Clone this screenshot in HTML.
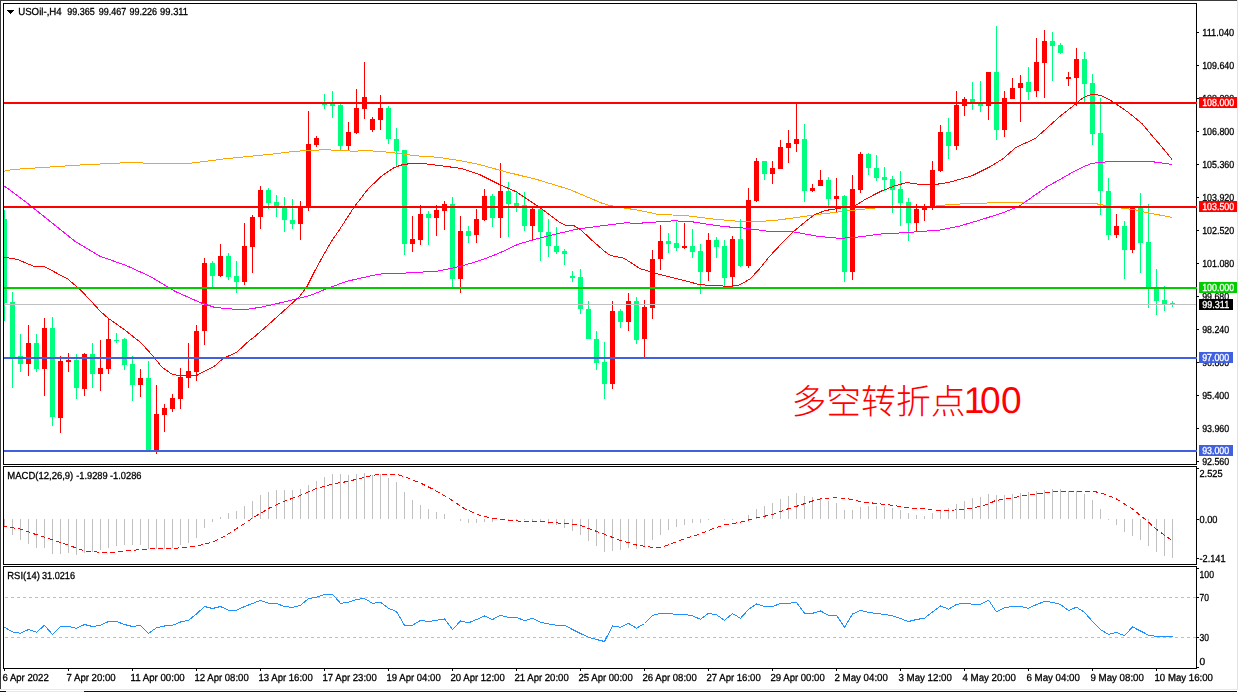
<!DOCTYPE html>
<html lang="en"><head><meta charset="utf-8"><title>USOil-,H4</title>
<style>
html,body{margin:0;padding:0;background:#fff;overflow:hidden}
body{width:1239px;height:692px;position:relative;font-family:"Liberation Sans",sans-serif}
svg{position:absolute;left:0;top:0;display:block}
text{font-family:"Liberation Sans",sans-serif;font-size:10.2px;fill:#000;stroke:#000;stroke-width:.3px;text-rendering:geometricPrecision}
.tx{filter:grayscale(1)}
.c{shape-rendering:crispEdges}
.l{fill:none;stroke-width:1;stroke-linejoin:round;shape-rendering:crispEdges}
</style></head>
<body>
<svg width="1239" height="692" viewBox="0 0 1239 692">
<rect width="1239" height="692" fill="#fff"/>
<clipPath id="cm"><rect x="4" y="4" width="1192" height="460"/></clipPath>
<g class="c" clip-path="url(#cm)">
<rect x="4" y="210" width="1" height="111" fill="#00FF7F"/><rect x="2" y="219" width="5" height="84" fill="#00FF7F"/>
<rect x="12" y="292" width="1" height="96" fill="#00FF7F"/><rect x="10" y="302" width="5" height="55" fill="#00FF7F"/>
<rect x="20" y="334" width="1" height="38" fill="#00FF7F"/><rect x="18" y="356" width="5" height="8" fill="#00FF7F"/>
<rect x="28" y="325" width="1" height="51" fill="#FF0000"/><rect x="26" y="343" width="5" height="21" fill="#FF0000"/>
<rect x="36" y="334" width="1" height="38" fill="#00FF7F"/><rect x="34" y="343" width="5" height="26" fill="#00FF7F"/>
<rect x="44" y="318" width="1" height="78" fill="#FF0000"/><rect x="42" y="328" width="5" height="41" fill="#FF0000"/>
<rect x="52" y="317" width="1" height="109" fill="#00FF7F"/><rect x="50" y="328" width="5" height="89" fill="#00FF7F"/>
<rect x="60" y="356" width="1" height="77" fill="#FF0000"/><rect x="58" y="361" width="5" height="57" fill="#FF0000"/>
<rect x="68" y="353" width="1" height="19" fill="#FF0000"/><rect x="66" y="360" width="5" height="2" fill="#FF0000"/>
<rect x="76" y="354" width="1" height="45" fill="#00FF7F"/><rect x="74" y="360" width="5" height="28" fill="#00FF7F"/>
<rect x="84" y="353" width="1" height="43" fill="#FF0000"/><rect x="82" y="354" width="5" height="35" fill="#FF0000"/>
<rect x="92" y="343" width="1" height="45" fill="#00FF7F"/><rect x="90" y="354" width="5" height="20" fill="#00FF7F"/>
<rect x="100" y="340" width="1" height="51" fill="#FF0000"/><rect x="98" y="368" width="5" height="6" fill="#FF0000"/>
<rect x="108" y="319" width="1" height="55" fill="#FF0000"/><rect x="106" y="339" width="5" height="30" fill="#FF0000"/>
<rect x="116" y="333" width="1" height="10" fill="#00FF7F"/><rect x="114" y="340" width="5" height="1" fill="#00FF7F"/>
<rect x="124" y="338" width="1" height="32" fill="#00FF7F"/><rect x="122" y="339" width="5" height="26" fill="#00FF7F"/>
<rect x="132" y="356" width="1" height="45" fill="#00FF7F"/><rect x="130" y="364" width="5" height="21" fill="#00FF7F"/>
<rect x="140" y="369" width="1" height="28" fill="#FF0000"/><rect x="138" y="378" width="5" height="7" fill="#FF0000"/>
<rect x="148" y="361" width="1" height="89" fill="#00FF7F"/><rect x="146" y="378" width="5" height="72" fill="#00FF7F"/>
<rect x="156" y="385" width="1" height="69" fill="#FF0000"/><rect x="154" y="414" width="5" height="36" fill="#FF0000"/>
<rect x="164" y="404" width="1" height="28" fill="#FF0000"/><rect x="162" y="408" width="5" height="7" fill="#FF0000"/>
<rect x="172" y="394" width="1" height="18" fill="#FF0000"/><rect x="170" y="398" width="5" height="11" fill="#FF0000"/>
<rect x="180" y="368" width="1" height="41" fill="#FF0000"/><rect x="178" y="377" width="5" height="22" fill="#FF0000"/>
<rect x="188" y="343" width="1" height="45" fill="#FF0000"/><rect x="186" y="371" width="5" height="7" fill="#FF0000"/>
<rect x="196" y="325" width="1" height="56" fill="#FF0000"/><rect x="194" y="331" width="5" height="41" fill="#FF0000"/>
<rect x="204" y="258" width="1" height="87" fill="#FF0000"/><rect x="202" y="263" width="5" height="68" fill="#FF0000"/>
<rect x="212" y="261" width="1" height="26" fill="#00FF7F"/><rect x="210" y="263" width="5" height="13" fill="#00FF7F"/>
<rect x="220" y="244" width="1" height="33" fill="#FF0000"/><rect x="218" y="256" width="5" height="20" fill="#FF0000"/>
<rect x="228" y="253" width="1" height="27" fill="#00FF7F"/><rect x="226" y="256" width="5" height="21" fill="#00FF7F"/>
<rect x="236" y="261" width="1" height="32" fill="#00FF7F"/><rect x="234" y="276" width="5" height="6" fill="#00FF7F"/>
<rect x="244" y="223" width="1" height="62" fill="#FF0000"/><rect x="242" y="246" width="5" height="36" fill="#FF0000"/>
<rect x="252" y="215" width="1" height="58" fill="#FF0000"/><rect x="250" y="217" width="5" height="30" fill="#FF0000"/>
<rect x="260" y="186" width="1" height="43" fill="#FF0000"/><rect x="258" y="190" width="5" height="27" fill="#FF0000"/>
<rect x="268" y="188" width="1" height="21" fill="#00FF7F"/><rect x="266" y="190" width="5" height="13" fill="#00FF7F"/>
<rect x="276" y="195" width="1" height="22" fill="#00FF7F"/><rect x="274" y="202" width="5" height="4" fill="#00FF7F"/>
<rect x="284" y="197" width="1" height="35" fill="#00FF7F"/><rect x="282" y="206" width="5" height="14" fill="#00FF7F"/>
<rect x="292" y="199" width="1" height="30" fill="#00FF7F"/><rect x="290" y="220" width="5" height="4" fill="#00FF7F"/>
<rect x="300" y="201" width="1" height="39" fill="#FF0000"/><rect x="298" y="207" width="5" height="17" fill="#FF0000"/>
<rect x="308" y="111" width="1" height="100" fill="#FF0000"/><rect x="306" y="144" width="5" height="63" fill="#FF0000"/>
<rect x="316" y="136" width="1" height="11" fill="#FF0000"/><rect x="314" y="138" width="5" height="7" fill="#FF0000"/>
<rect x="324" y="94" width="1" height="15" fill="#00FF7F"/><rect x="322" y="103" width="5" height="2" fill="#00FF7F"/>
<rect x="332" y="91" width="1" height="27" fill="#00FF7F"/><rect x="330" y="103" width="5" height="3" fill="#00FF7F"/>
<rect x="340" y="104" width="1" height="46" fill="#00FF7F"/><rect x="338" y="105" width="5" height="41" fill="#00FF7F"/>
<rect x="348" y="122" width="1" height="28" fill="#FF0000"/><rect x="346" y="132" width="5" height="14" fill="#FF0000"/>
<rect x="356" y="89" width="1" height="45" fill="#FF0000"/><rect x="354" y="108" width="5" height="25" fill="#FF0000"/>
<rect x="364" y="62" width="1" height="57" fill="#FF0000"/><rect x="362" y="97" width="5" height="12" fill="#FF0000"/>
<rect x="372" y="117" width="1" height="15" fill="#FF0000"/><rect x="370" y="119" width="5" height="11" fill="#FF0000"/>
<rect x="380" y="95" width="1" height="35" fill="#FF0000"/><rect x="378" y="108" width="5" height="12" fill="#FF0000"/>
<rect x="388" y="106" width="1" height="38" fill="#00FF7F"/><rect x="386" y="108" width="5" height="31" fill="#00FF7F"/>
<rect x="396" y="128" width="1" height="38" fill="#00FF7F"/><rect x="394" y="139" width="5" height="12" fill="#00FF7F"/>
<rect x="404" y="150" width="1" height="105" fill="#00FF7F"/><rect x="402" y="150" width="5" height="94" fill="#00FF7F"/>
<rect x="412" y="216" width="1" height="36" fill="#FF0000"/><rect x="410" y="239" width="5" height="5" fill="#FF0000"/>
<rect x="420" y="205" width="1" height="40" fill="#FF0000"/><rect x="418" y="214" width="5" height="26" fill="#FF0000"/>
<rect x="428" y="211" width="1" height="34" fill="#00FF7F"/><rect x="426" y="214" width="5" height="4" fill="#00FF7F"/>
<rect x="436" y="205" width="1" height="31" fill="#FF0000"/><rect x="434" y="210" width="5" height="8" fill="#FF0000"/>
<rect x="444" y="201" width="1" height="29" fill="#FF0000"/><rect x="442" y="204" width="5" height="7" fill="#FF0000"/>
<rect x="452" y="197" width="1" height="90" fill="#00FF7F"/><rect x="450" y="204" width="5" height="75" fill="#00FF7F"/>
<rect x="460" y="216" width="1" height="77" fill="#FF0000"/><rect x="458" y="231" width="5" height="48" fill="#FF0000"/>
<rect x="468" y="226" width="1" height="17" fill="#00FF7F"/><rect x="466" y="231" width="5" height="5" fill="#00FF7F"/>
<rect x="476" y="209" width="1" height="34" fill="#FF0000"/><rect x="474" y="219" width="5" height="16" fill="#FF0000"/>
<rect x="484" y="189" width="1" height="32" fill="#FF0000"/><rect x="482" y="196" width="5" height="24" fill="#FF0000"/>
<rect x="492" y="194" width="1" height="33" fill="#00FF7F"/><rect x="490" y="196" width="5" height="22" fill="#00FF7F"/>
<rect x="500" y="163" width="1" height="75" fill="#FF0000"/><rect x="498" y="191" width="5" height="27" fill="#FF0000"/>
<rect x="508" y="182" width="1" height="55" fill="#00FF7F"/><rect x="506" y="191" width="5" height="13" fill="#00FF7F"/>
<rect x="516" y="191" width="1" height="21" fill="#00FF7F"/><rect x="514" y="203" width="5" height="3" fill="#00FF7F"/>
<rect x="524" y="192" width="1" height="39" fill="#00FF7F"/><rect x="522" y="205" width="5" height="21" fill="#00FF7F"/>
<rect x="532" y="208" width="1" height="32" fill="#FF0000"/><rect x="530" y="209" width="5" height="17" fill="#FF0000"/>
<rect x="540" y="208" width="1" height="53" fill="#00FF7F"/><rect x="538" y="209" width="5" height="23" fill="#00FF7F"/>
<rect x="548" y="219" width="1" height="38" fill="#00FF7F"/><rect x="546" y="232" width="5" height="14" fill="#00FF7F"/>
<rect x="556" y="227" width="1" height="27" fill="#00FF7F"/><rect x="554" y="246" width="5" height="6" fill="#00FF7F"/>
<rect x="564" y="249" width="1" height="16" fill="#00FF7F"/><rect x="562" y="251" width="5" height="3" fill="#00FF7F"/>
<rect x="572" y="271" width="1" height="11" fill="#00FF7F"/><rect x="570" y="276" width="5" height="2" fill="#00FF7F"/>
<rect x="580" y="269" width="1" height="45" fill="#00FF7F"/><rect x="578" y="277" width="5" height="32" fill="#00FF7F"/>
<rect x="588" y="301" width="1" height="38" fill="#00FF7F"/><rect x="586" y="309" width="5" height="30" fill="#00FF7F"/>
<rect x="596" y="331" width="1" height="39" fill="#00FF7F"/><rect x="594" y="339" width="5" height="24" fill="#00FF7F"/>
<rect x="604" y="342" width="1" height="57" fill="#00FF7F"/><rect x="602" y="362" width="5" height="22" fill="#00FF7F"/>
<rect x="612" y="301" width="1" height="88" fill="#FF0000"/><rect x="610" y="311" width="5" height="73" fill="#FF0000"/>
<rect x="620" y="309" width="1" height="19" fill="#00FF7F"/><rect x="618" y="311" width="5" height="11" fill="#00FF7F"/>
<rect x="628" y="293" width="1" height="38" fill="#FF0000"/><rect x="626" y="301" width="5" height="21" fill="#FF0000"/>
<rect x="636" y="297" width="1" height="47" fill="#00FF7F"/><rect x="634" y="301" width="5" height="39" fill="#00FF7F"/>
<rect x="644" y="300" width="1" height="57" fill="#FF0000"/><rect x="642" y="307" width="5" height="32" fill="#FF0000"/>
<rect x="652" y="250" width="1" height="69" fill="#FF0000"/><rect x="650" y="259" width="5" height="49" fill="#FF0000"/>
<rect x="660" y="225" width="1" height="45" fill="#FF0000"/><rect x="658" y="241" width="5" height="18" fill="#FF0000"/>
<rect x="668" y="233" width="1" height="20" fill="#00FF7F"/><rect x="666" y="241" width="5" height="3" fill="#00FF7F"/>
<rect x="676" y="220" width="1" height="31" fill="#00FF7F"/><rect x="674" y="243" width="5" height="5" fill="#00FF7F"/>
<rect x="684" y="223" width="1" height="26" fill="#FF0000"/><rect x="682" y="246" width="5" height="2" fill="#FF0000"/>
<rect x="692" y="229" width="1" height="29" fill="#00FF7F"/><rect x="690" y="246" width="5" height="6" fill="#00FF7F"/>
<rect x="700" y="244" width="1" height="50" fill="#00FF7F"/><rect x="698" y="251" width="5" height="21" fill="#00FF7F"/>
<rect x="708" y="233" width="1" height="48" fill="#FF0000"/><rect x="706" y="240" width="5" height="32" fill="#FF0000"/>
<rect x="716" y="237" width="1" height="21" fill="#00FF7F"/><rect x="714" y="240" width="5" height="7" fill="#00FF7F"/>
<rect x="724" y="240" width="1" height="46" fill="#00FF7F"/><rect x="722" y="246" width="5" height="32" fill="#00FF7F"/>
<rect x="732" y="236" width="1" height="51" fill="#FF0000"/><rect x="730" y="239" width="5" height="38" fill="#FF0000"/>
<rect x="740" y="219" width="1" height="48" fill="#00FF7F"/><rect x="738" y="239" width="5" height="27" fill="#00FF7F"/>
<rect x="748" y="188" width="1" height="80" fill="#FF0000"/><rect x="746" y="200" width="5" height="66" fill="#FF0000"/>
<rect x="756" y="158" width="1" height="44" fill="#FF0000"/><rect x="754" y="161" width="5" height="40" fill="#FF0000"/>
<rect x="764" y="161" width="1" height="19" fill="#00FF7F"/><rect x="762" y="161" width="5" height="13" fill="#00FF7F"/>
<rect x="772" y="161" width="1" height="23" fill="#FF0000"/><rect x="770" y="168" width="5" height="6" fill="#FF0000"/>
<rect x="780" y="140" width="1" height="29" fill="#FF0000"/><rect x="778" y="147" width="5" height="22" fill="#FF0000"/>
<rect x="788" y="130" width="1" height="33" fill="#FF0000"/><rect x="786" y="143" width="5" height="5" fill="#FF0000"/>
<rect x="796" y="103" width="1" height="49" fill="#FF0000"/><rect x="794" y="139" width="5" height="5" fill="#FF0000"/>
<rect x="804" y="124" width="1" height="78" fill="#00FF7F"/><rect x="802" y="139" width="5" height="52" fill="#00FF7F"/>
<rect x="812" y="184" width="1" height="8" fill="#FF0000"/><rect x="810" y="188" width="5" height="3" fill="#FF0000"/>
<rect x="820" y="170" width="1" height="16" fill="#FF0000"/><rect x="818" y="180" width="5" height="6" fill="#FF0000"/>
<rect x="828" y="177" width="1" height="30" fill="#00FF7F"/><rect x="826" y="180" width="5" height="19" fill="#00FF7F"/>
<rect x="836" y="178" width="1" height="34" fill="#FF0000"/><rect x="834" y="196" width="5" height="3" fill="#FF0000"/>
<rect x="844" y="195" width="1" height="87" fill="#00FF7F"/><rect x="842" y="196" width="5" height="76" fill="#00FF7F"/>
<rect x="852" y="175" width="1" height="105" fill="#FF0000"/><rect x="850" y="189" width="5" height="83" fill="#FF0000"/>
<rect x="860" y="152" width="1" height="41" fill="#FF0000"/><rect x="858" y="154" width="5" height="36" fill="#FF0000"/>
<rect x="868" y="153" width="1" height="22" fill="#00FF7F"/><rect x="866" y="154" width="5" height="14" fill="#00FF7F"/>
<rect x="876" y="155" width="1" height="26" fill="#00FF7F"/><rect x="874" y="168" width="5" height="10" fill="#00FF7F"/>
<rect x="884" y="167" width="1" height="24" fill="#00FF7F"/><rect x="882" y="177" width="5" height="3" fill="#00FF7F"/>
<rect x="892" y="176" width="1" height="37" fill="#00FF7F"/><rect x="890" y="179" width="5" height="11" fill="#00FF7F"/>
<rect x="900" y="171" width="1" height="55" fill="#00FF7F"/><rect x="898" y="189" width="5" height="14" fill="#00FF7F"/>
<rect x="908" y="198" width="1" height="43" fill="#00FF7F"/><rect x="906" y="202" width="5" height="21" fill="#00FF7F"/>
<rect x="916" y="204" width="1" height="28" fill="#FF0000"/><rect x="914" y="209" width="5" height="14" fill="#FF0000"/>
<rect x="924" y="204" width="1" height="17" fill="#FF0000"/><rect x="922" y="208" width="5" height="2" fill="#FF0000"/>
<rect x="932" y="161" width="1" height="49" fill="#FF0000"/><rect x="930" y="170" width="5" height="38" fill="#FF0000"/>
<rect x="940" y="125" width="1" height="47" fill="#FF0000"/><rect x="938" y="132" width="5" height="39" fill="#FF0000"/>
<rect x="948" y="118" width="1" height="41" fill="#00FF7F"/><rect x="946" y="132" width="5" height="14" fill="#00FF7F"/>
<rect x="956" y="91" width="1" height="59" fill="#FF0000"/><rect x="954" y="105" width="5" height="41" fill="#FF0000"/>
<rect x="964" y="97" width="1" height="19" fill="#FF0000"/><rect x="962" y="99" width="5" height="7" fill="#FF0000"/>
<rect x="972" y="82" width="1" height="28" fill="#00FF7F"/><rect x="970" y="99" width="5" height="3" fill="#00FF7F"/>
<rect x="980" y="81" width="1" height="31" fill="#00FF7F"/><rect x="978" y="104" width="5" height="2" fill="#00FF7F"/>
<rect x="988" y="72" width="1" height="48" fill="#FF0000"/><rect x="986" y="72" width="5" height="34" fill="#FF0000"/>
<rect x="996" y="26" width="1" height="114" fill="#00FF7F"/><rect x="994" y="72" width="5" height="58" fill="#00FF7F"/>
<rect x="1004" y="91" width="1" height="46" fill="#FF0000"/><rect x="1002" y="98" width="5" height="32" fill="#FF0000"/>
<rect x="1012" y="78" width="1" height="21" fill="#FF0000"/><rect x="1010" y="88" width="5" height="11" fill="#FF0000"/>
<rect x="1020" y="75" width="1" height="47" fill="#FF0000"/><rect x="1018" y="83" width="5" height="5" fill="#FF0000"/>
<rect x="1028" y="67" width="1" height="33" fill="#00FF7F"/><rect x="1026" y="82" width="5" height="10" fill="#00FF7F"/>
<rect x="1036" y="38" width="1" height="59" fill="#FF0000"/><rect x="1034" y="62" width="5" height="29" fill="#FF0000"/>
<rect x="1044" y="30" width="1" height="68" fill="#FF0000"/><rect x="1042" y="41" width="5" height="22" fill="#FF0000"/>
<rect x="1052" y="32" width="1" height="49" fill="#00FF7F"/><rect x="1050" y="41" width="5" height="5" fill="#00FF7F"/>
<rect x="1060" y="43" width="1" height="11" fill="#00FF7F"/><rect x="1058" y="45" width="5" height="8" fill="#00FF7F"/>
<rect x="1068" y="72" width="1" height="14" fill="#FF0000"/><rect x="1066" y="77" width="5" height="2" fill="#FF0000"/>
<rect x="1076" y="48" width="1" height="58" fill="#FF0000"/><rect x="1074" y="59" width="5" height="19" fill="#FF0000"/>
<rect x="1084" y="52" width="1" height="50" fill="#00FF7F"/><rect x="1082" y="59" width="5" height="25" fill="#00FF7F"/>
<rect x="1092" y="74" width="1" height="71" fill="#00FF7F"/><rect x="1090" y="83" width="5" height="51" fill="#00FF7F"/>
<rect x="1100" y="98" width="1" height="117" fill="#00FF7F"/><rect x="1098" y="133" width="5" height="58" fill="#00FF7F"/>
<rect x="1108" y="178" width="1" height="62" fill="#00FF7F"/><rect x="1106" y="191" width="5" height="44" fill="#00FF7F"/>
<rect x="1116" y="214" width="1" height="24" fill="#FF0000"/><rect x="1114" y="226" width="5" height="9" fill="#FF0000"/>
<rect x="1124" y="221" width="1" height="58" fill="#00FF7F"/><rect x="1122" y="226" width="5" height="24" fill="#00FF7F"/>
<rect x="1132" y="207" width="1" height="46" fill="#FF0000"/><rect x="1130" y="208" width="5" height="42" fill="#FF0000"/>
<rect x="1140" y="193" width="1" height="80" fill="#00FF7F"/><rect x="1138" y="208" width="5" height="35" fill="#00FF7F"/>
<rect x="1148" y="204" width="1" height="104" fill="#00FF7F"/><rect x="1146" y="242" width="5" height="45" fill="#00FF7F"/>
<rect x="1156" y="269" width="1" height="46" fill="#00FF7F"/><rect x="1154" y="289" width="5" height="12" fill="#00FF7F"/>
<rect x="1164" y="286" width="1" height="25" fill="#00FF7F"/><rect x="1162" y="300" width="5" height="4" fill="#00FF7F"/>
<rect x="1172" y="301" width="1" height="6" fill="#00FF7F"/><rect x="1170" y="303" width="5" height="2" fill="#00FF7F"/>
<rect x="4" y="304" width="1192" height="1" fill="#C0C0C0"/>
</g>
<polyline class="l" points="4.0,171.3 12.5,169.5 80.0,165.0 130.0,162.5 150.0,163.3 190.0,163.3 225.0,158.8 275.0,153.8 296.0,151.2 325.0,149.7 353.8,151.2 368.0,150.6 391.0,152.4 415.0,155.7 438.0,157.3 461.3,160.8 478.8,164.3 504.7,171.6 537.1,179.6 569.4,189.4 601.8,203.1 610.0,205.5 626.0,208.3 640.0,210.5 656.2,214.0 688.5,216.0 712.8,219.0 737.1,221.2 756.5,221.7 777.5,220.1 801.8,216.8 818.0,214.4 840.0,211.8 865.0,209.0 882.0,207.3 932.0,206.8 940.0,205.3 960.0,204.0 980.0,203.2 1003.0,202.6 1030.0,203.1 1048.0,203.6 1080.0,203.3 1097.0,203.9 1106.0,205.6 1123.0,208.3 1134.0,209.6 1146.5,212.5 1172.0,217.4" stroke="#FFA500" />
<polyline class="l" points="4.0,185.8 25.0,201.3 50.0,221.3 75.0,241.3 100.0,256.3 125.0,265.0 150.0,276.3 175.0,291.3 200.0,302.5 215.0,307.5 242.5,310.0 262.0,307.0 287.0,301.3 310.0,295.5 318.8,292.0 326.0,289.0 346.0,281.5 370.0,276.0 381.0,274.0 392.0,273.8 415.0,272.5 437.6,271.1 453.0,268.1 466.0,264.7 479.3,260.7 493.0,255.7 502.3,251.7 517.7,244.4 537.1,238.7 556.5,233.9 577.5,229.0 601.8,225.8 624.5,222.9 640.0,223.2 656.0,222.0 672.4,220.9 688.5,221.2 704.7,223.8 724.1,226.6 745.2,228.2 769.4,231.4 793.7,231.9 818.0,236.3 840.0,238.4 858.0,237.0 881.0,234.0 908.0,232.5 939.8,230.0 959.0,226.2 981.0,219.8 1003.4,212.5 1019.4,206.1 1035.0,195.0 1048.0,186.1 1060.0,179.5 1070.7,173.3 1082.0,167.5 1091.5,163.3 1105.0,162.0 1128.5,161.6 1151.6,161.6 1172.0,164.4" stroke="#FF00FF" />
<polyline class="l" points="4.0,257.0 17.5,259.5 35.0,266.8 45.0,267.0 67.5,278.8 80.0,289.3 90.0,300.0 101.0,312.0 108.6,318.5 124.8,330.0 141.0,342.8 152.5,355.5 161.8,367.0 172.2,374.3 179.0,375.5 196.5,375.5 204.6,371.3 213.8,366.7 223.0,358.6 237.0,352.1 248.5,341.3 256.0,335.5 269.7,323.5 294.2,301.4 300.0,295.9 307.0,286.6 315.0,270.5 323.0,256.0 331.2,241.6 339.0,230.5 353.8,207.5 368.3,188.7 382.7,175.1 394.3,167.5 403.5,164.3 419.7,163.1 438.0,165.4 461.3,168.4 479.8,174.7 500.6,185.0 516.7,192.0 532.0,202.4 537.0,205.5 550.0,215.2 559.7,222.5 564.6,225.0 574.3,225.9 580.8,229.8 592.0,240.3 605.0,251.7 610.5,255.5 623.8,258.1 640.0,268.6 656.2,273.5 672.4,277.5 688.5,281.6 699.9,284.8 719.3,285.6 728.2,286.6 738.7,285.3 750.0,279.1 759.7,268.6 769.4,256.5 782.4,242.7 793.7,231.4 803.4,223.3 814.8,214.4 826.1,210.4 840.0,208.2 855.0,205.7 866.8,198.5 881.0,191.2 895.7,185.5 907.0,182.6 920.7,184.5 933.5,184.8 949.4,182.3 971.6,175.9 990.7,166.4 1003.4,158.4 1016.0,147.3 1035.0,138.7 1047.6,127.5 1059.0,117.1 1070.7,107.9 1082.0,98.6 1089.0,95.1 1095.0,94.2 1103.0,96.3 1112.3,101.4 1128.5,112.5 1142.4,124.0 1151.6,135.1 1163.0,148.3 1172.0,159.4" stroke="#FF0000" />
<g class="c">
<rect x="4" y="519" width="1" height="8" fill="#C0C0C0"/><rect x="12" y="519" width="1" height="16" fill="#C0C0C0"/><rect x="20" y="519" width="1" height="21" fill="#C0C0C0"/><rect x="28" y="519" width="1" height="25" fill="#C0C0C0"/><rect x="36" y="519" width="1" height="29" fill="#C0C0C0"/><rect x="44" y="519" width="1" height="29" fill="#C0C0C0"/><rect x="52" y="519" width="1" height="35" fill="#C0C0C0"/><rect x="60" y="519" width="1" height="35" fill="#C0C0C0"/><rect x="68" y="519" width="1" height="34" fill="#C0C0C0"/><rect x="76" y="519" width="1" height="36" fill="#C0C0C0"/><rect x="84" y="519" width="1" height="34" fill="#C0C0C0"/><rect x="92" y="519" width="1" height="33" fill="#C0C0C0"/><rect x="100" y="519" width="1" height="31" fill="#C0C0C0"/><rect x="108" y="519" width="1" height="29" fill="#C0C0C0"/><rect x="116" y="519" width="1" height="27" fill="#C0C0C0"/><rect x="124" y="519" width="1" height="26" fill="#C0C0C0"/><rect x="132" y="519" width="1" height="26" fill="#C0C0C0"/><rect x="140" y="519" width="1" height="26" fill="#C0C0C0"/><rect x="148" y="519" width="1" height="30" fill="#C0C0C0"/><rect x="156" y="519" width="1" height="30" fill="#C0C0C0"/><rect x="164" y="519" width="1" height="30" fill="#C0C0C0"/><rect x="172" y="519" width="1" height="29" fill="#C0C0C0"/><rect x="180" y="519" width="1" height="26" fill="#C0C0C0"/><rect x="188" y="519" width="1" height="24" fill="#C0C0C0"/><rect x="196" y="519" width="1" height="19" fill="#C0C0C0"/><rect x="204" y="519" width="1" height="9" fill="#C0C0C0"/><rect x="212" y="519" width="1" height="3" fill="#C0C0C0"/><rect x="220" y="517" width="1" height="2" fill="#C0C0C0"/><rect x="228" y="513" width="1" height="6" fill="#C0C0C0"/><rect x="236" y="511" width="1" height="8" fill="#C0C0C0"/><rect x="244" y="506" width="1" height="13" fill="#C0C0C0"/><rect x="252" y="501" width="1" height="18" fill="#C0C0C0"/><rect x="260" y="495" width="1" height="24" fill="#C0C0C0"/><rect x="268" y="492" width="1" height="27" fill="#C0C0C0"/><rect x="276" y="490" width="1" height="29" fill="#C0C0C0"/><rect x="284" y="490" width="1" height="29" fill="#C0C0C0"/><rect x="292" y="490" width="1" height="29" fill="#C0C0C0"/><rect x="300" y="489" width="1" height="30" fill="#C0C0C0"/><rect x="308" y="485" width="1" height="34" fill="#C0C0C0"/><rect x="316" y="481" width="1" height="38" fill="#C0C0C0"/><rect x="324" y="477" width="1" height="42" fill="#C0C0C0"/><rect x="332" y="474" width="1" height="45" fill="#C0C0C0"/><rect x="340" y="474" width="1" height="45" fill="#C0C0C0"/><rect x="348" y="475" width="1" height="44" fill="#C0C0C0"/><rect x="356" y="474" width="1" height="45" fill="#C0C0C0"/><rect x="364" y="473" width="1" height="46" fill="#C0C0C0"/><rect x="372" y="475" width="1" height="44" fill="#C0C0C0"/><rect x="380" y="474" width="1" height="45" fill="#C0C0C0"/><rect x="388" y="478" width="1" height="41" fill="#C0C0C0"/><rect x="396" y="482" width="1" height="37" fill="#C0C0C0"/><rect x="404" y="492" width="1" height="27" fill="#C0C0C0"/><rect x="412" y="500" width="1" height="19" fill="#C0C0C0"/><rect x="420" y="505" width="1" height="14" fill="#C0C0C0"/><rect x="428" y="509" width="1" height="10" fill="#C0C0C0"/><rect x="436" y="512" width="1" height="7" fill="#C0C0C0"/><rect x="444" y="514" width="1" height="5" fill="#C0C0C0"/><rect x="460" y="519" width="1" height="2" fill="#C0C0C0"/><rect x="468" y="519" width="1" height="4" fill="#C0C0C0"/><rect x="476" y="519" width="1" height="4" fill="#C0C0C0"/><rect x="484" y="519" width="1" height="3" fill="#C0C0C0"/><rect x="492" y="519" width="1" height="3" fill="#C0C0C0"/><rect x="500" y="519" width="1" height="1" fill="#C0C0C0"/><rect x="508" y="519" width="1" height="1" fill="#C0C0C0"/><rect x="516" y="519" width="1" height="1" fill="#C0C0C0"/><rect x="524" y="519" width="1" height="1" fill="#C0C0C0"/><rect x="532" y="519" width="1" height="2" fill="#C0C0C0"/><rect x="540" y="519" width="1" height="3" fill="#C0C0C0"/><rect x="548" y="519" width="1" height="5" fill="#C0C0C0"/><rect x="556" y="519" width="1" height="6" fill="#C0C0C0"/><rect x="564" y="519" width="1" height="9" fill="#C0C0C0"/><rect x="572" y="519" width="1" height="12" fill="#C0C0C0"/><rect x="580" y="519" width="1" height="16" fill="#C0C0C0"/><rect x="588" y="519" width="1" height="22" fill="#C0C0C0"/><rect x="596" y="519" width="1" height="27" fill="#C0C0C0"/><rect x="604" y="519" width="1" height="33" fill="#C0C0C0"/><rect x="612" y="519" width="1" height="32" fill="#C0C0C0"/><rect x="620" y="519" width="1" height="31" fill="#C0C0C0"/><rect x="628" y="519" width="1" height="29" fill="#C0C0C0"/><rect x="636" y="519" width="1" height="30" fill="#C0C0C0"/><rect x="644" y="519" width="1" height="28" fill="#C0C0C0"/><rect x="652" y="519" width="1" height="21" fill="#C0C0C0"/><rect x="660" y="519" width="1" height="16" fill="#C0C0C0"/><rect x="668" y="519" width="1" height="11" fill="#C0C0C0"/><rect x="676" y="519" width="1" height="8" fill="#C0C0C0"/><rect x="684" y="519" width="1" height="6" fill="#C0C0C0"/><rect x="692" y="519" width="1" height="4" fill="#C0C0C0"/><rect x="700" y="519" width="1" height="4" fill="#C0C0C0"/><rect x="708" y="519" width="1" height="1" fill="#C0C0C0"/><rect x="724" y="519" width="1" height="1" fill="#C0C0C0"/><rect x="732" y="519" width="1" height="1" fill="#C0C0C0"/><rect x="748" y="515" width="1" height="4" fill="#C0C0C0"/><rect x="756" y="509" width="1" height="10" fill="#C0C0C0"/><rect x="764" y="506" width="1" height="13" fill="#C0C0C0"/><rect x="772" y="503" width="1" height="16" fill="#C0C0C0"/><rect x="780" y="499" width="1" height="20" fill="#C0C0C0"/><rect x="788" y="496" width="1" height="23" fill="#C0C0C0"/><rect x="796" y="493" width="1" height="26" fill="#C0C0C0"/><rect x="804" y="496" width="1" height="23" fill="#C0C0C0"/><rect x="812" y="497" width="1" height="22" fill="#C0C0C0"/><rect x="820" y="499" width="1" height="20" fill="#C0C0C0"/><rect x="828" y="501" width="1" height="18" fill="#C0C0C0"/><rect x="836" y="503" width="1" height="16" fill="#C0C0C0"/><rect x="844" y="510" width="1" height="9" fill="#C0C0C0"/><rect x="852" y="510" width="1" height="9" fill="#C0C0C0"/><rect x="860" y="507" width="1" height="12" fill="#C0C0C0"/><rect x="868" y="506" width="1" height="13" fill="#C0C0C0"/><rect x="876" y="506" width="1" height="13" fill="#C0C0C0"/><rect x="884" y="507" width="1" height="12" fill="#C0C0C0"/><rect x="892" y="508" width="1" height="11" fill="#C0C0C0"/><rect x="900" y="510" width="1" height="9" fill="#C0C0C0"/><rect x="908" y="513" width="1" height="6" fill="#C0C0C0"/><rect x="916" y="515" width="1" height="4" fill="#C0C0C0"/><rect x="924" y="516" width="1" height="3" fill="#C0C0C0"/><rect x="932" y="513" width="1" height="6" fill="#C0C0C0"/><rect x="940" y="511" width="1" height="8" fill="#C0C0C0"/><rect x="948" y="508" width="1" height="11" fill="#C0C0C0"/><rect x="956" y="504" width="1" height="15" fill="#C0C0C0"/><rect x="964" y="501" width="1" height="18" fill="#C0C0C0"/><rect x="972" y="498" width="1" height="21" fill="#C0C0C0"/><rect x="980" y="497" width="1" height="22" fill="#C0C0C0"/><rect x="988" y="494" width="1" height="25" fill="#C0C0C0"/><rect x="996" y="495" width="1" height="24" fill="#C0C0C0"/><rect x="1004" y="495" width="1" height="24" fill="#C0C0C0"/><rect x="1012" y="494" width="1" height="25" fill="#C0C0C0"/><rect x="1020" y="493" width="1" height="26" fill="#C0C0C0"/><rect x="1028" y="492" width="1" height="27" fill="#C0C0C0"/><rect x="1036" y="491" width="1" height="28" fill="#C0C0C0"/><rect x="1044" y="490" width="1" height="29" fill="#C0C0C0"/><rect x="1052" y="489" width="1" height="30" fill="#C0C0C0"/><rect x="1060" y="489" width="1" height="30" fill="#C0C0C0"/><rect x="1068" y="491" width="1" height="28" fill="#C0C0C0"/><rect x="1076" y="491" width="1" height="28" fill="#C0C0C0"/><rect x="1084" y="494" width="1" height="25" fill="#C0C0C0"/><rect x="1092" y="500" width="1" height="19" fill="#C0C0C0"/><rect x="1100" y="509" width="1" height="10" fill="#C0C0C0"/><rect x="1108" y="519" width="1" height="1" fill="#C0C0C0"/><rect x="1116" y="519" width="1" height="6" fill="#C0C0C0"/><rect x="1124" y="519" width="1" height="13" fill="#C0C0C0"/><rect x="1132" y="519" width="1" height="17" fill="#C0C0C0"/><rect x="1140" y="519" width="1" height="21" fill="#C0C0C0"/><rect x="1148" y="519" width="1" height="27" fill="#C0C0C0"/><rect x="1156" y="519" width="1" height="33" fill="#C0C0C0"/><rect x="1164" y="519" width="1" height="37" fill="#C0C0C0"/><rect x="1172" y="519" width="1" height="39" fill="#C0C0C0"/>
<path d="M5 597.5H1196" stroke="#C0C0C0" stroke-width="1" stroke-dasharray="3 3" fill="none"/><path d="M5 637.5H1196" stroke="#C0C0C0" stroke-width="1" stroke-dasharray="3 3" fill="none"/>
</g>
<polyline class="l" points="4.0,526.5 20.0,529.0 36.0,534.5 52.0,539.5 68.0,545.0 84.0,550.8 100.0,552.3 116.0,552.3 132.0,550.3 150.0,549.0 175.0,548.3 195.0,546.5 212.0,542.3 225.0,536.0 240.0,526.5 255.0,516.5 270.0,507.8 285.0,501.0 300.0,495.6 315.0,489.0 332.5,484.0 347.5,481.5 362.5,477.8 372.5,475.3 380.0,474.5 397.5,474.5 405.0,477.0 420.0,482.8 435.0,490.3 450.0,499.0 465.0,509.0 480.0,515.3 492.5,518.3 507.5,520.3 525.0,521.5 540.0,521.5 555.0,522.8 570.0,524.0 580.0,525.3 590.0,529.0 602.5,533.5 620.0,540.3 637.5,545.3 652.5,547.3 660.0,547.3 667.5,545.3 685.0,538.5 700.0,534.0 715.0,527.8 725.0,524.8 740.0,522.3 755.0,518.3 772.5,514.5 787.5,509.0 797.5,506.0 812.5,501.0 820.0,499.0 836.0,497.3 852.5,499.5 860.0,501.5 875.0,503.3 892.5,505.3 908.0,507.8 924.6,509.0 935.6,510.5 954.7,510.0 971.0,508.3 987.6,504.5 995.8,500.4 1012.0,498.2 1020.0,496.3 1036.8,494.0 1045.0,492.7 1058.7,491.4 1075.0,491.4 1094.0,491.4 1102.5,493.5 1116.0,498.7 1132.6,509.0 1146.0,520.0 1157.0,529.7 1172.5,541.0" stroke="#FF0000" stroke-dasharray="5 3" stroke-dashoffset="2"/>
<polyline class="l" points="4.5,627.3 12.5,632.0 20.5,633.3 28.5,629.5 36.5,632.3 44.5,625.3 52.5,634.5 60.5,626.5 68.5,626.5 76.5,628.3 84.5,624.5 92.5,626.5 100.5,625.3 108.5,621.5 116.5,621.5 124.5,624.5 132.5,626.5 140.5,625.3 148.5,633.3 156.5,627.8 164.5,626.0 172.5,625.3 180.5,622.0 188.5,620.3 196.5,614.0 204.5,606.5 212.5,608.5 220.5,606.5 228.5,610.3 236.5,610.3 244.5,606.5 252.5,603.5 260.5,600.3 268.5,603.3 276.5,603.5 284.5,606.5 292.5,607.5 300.5,605.3 308.5,598.5 316.5,597.3 324.5,594.3 332.5,594.3 340.5,603.3 348.5,602.3 356.5,599.5 364.5,598.5 372.5,603.3 380.5,602.3 388.5,608.3 396.5,611.5 404.5,625.3 412.5,625.3 420.5,620.3 428.5,621.5 436.5,620.3 444.5,619.0 452.5,629.5 460.5,621.0 468.5,622.8 476.5,619.5 484.5,616.0 492.5,619.5 500.5,615.3 508.5,617.3 516.5,617.3 524.5,620.8 532.5,618.3 540.5,622.3 548.5,624.0 556.5,625.3 564.5,625.3 572.5,629.5 580.5,633.5 588.5,637.3 596.5,639.5 604.5,641.5 612.5,626.0 620.5,627.3 628.5,623.3 636.5,628.3 644.5,623.5 652.5,615.3 660.5,613.3 668.5,613.3 676.5,614.5 684.5,614.5 692.5,615.8 700.5,619.3 708.5,613.3 716.5,614.8 724.5,620.3 732.5,613.5 740.5,618.3 748.5,609.5 756.5,604.0 764.5,606.5 772.5,606.5 780.5,603.5 788.5,603.3 796.5,602.3 804.5,613.3 812.5,613.3 820.5,611.0 828.5,615.3 836.5,615.3 844.5,627.3 852.5,614.0 860.5,610.3 868.5,612.3 876.5,613.5 884.5,614.5 892.5,615.8 900.5,618.6 908.5,621.5 916.5,619.5 924.5,618.2 932.5,611.9 940.5,605.9 948.5,609.1 956.5,604.5 964.5,603.1 972.5,604.2 980.5,604.2 988.5,600.1 996.5,611.9 1004.5,607.8 1012.5,606.4 1020.5,606.4 1028.5,608.3 1036.5,604.5 1044.5,601.5 1052.5,602.3 1060.5,604.5 1068.5,610.5 1076.5,607.2 1084.5,612.4 1092.5,621.5 1100.5,629.7 1108.5,634.3 1116.5,632.4 1124.5,635.7 1132.5,626.9 1140.5,631.0 1148.5,635.1 1156.5,636.5 1164.5,636.5 1172.5,636.5" stroke="#1E90FF" />
<g class="c">
<rect x="0" y="0" width="1237" height="1" fill="#3a3a3a"/><rect x="0" y="0" width="1" height="689" fill="#3a3a3a"/><rect x="1237" y="0" width="1" height="690" fill="#E3E3E3"/><rect x="0" y="689" width="1238" height="1" fill="#E8E8E8"/><rect x="0" y="691" width="6" height="1" fill="#111"/><rect x="6" y="691" width="78" height="1" fill="#E8E8E8"/><rect x="84" y="691" width="1153" height="1" fill="#111"/>
<rect x="3" y="3" width="1194" height="1" fill="#000"/><rect x="3" y="3" width="1" height="666" fill="#000"/><rect x="1196" y="3" width="1" height="666" fill="#000"/><rect x="3" y="464" width="1194" height="1" fill="#000"/><rect x="3" y="466" width="1194" height="1" fill="#000"/><rect x="3" y="564" width="1194" height="1" fill="#000"/><rect x="3" y="566" width="1194" height="1" fill="#000"/><rect x="3" y="668" width="1194" height="1" fill="#000"/><rect x="3" y="465" width="1" height="1" fill="#fff"/><rect x="1196" y="465" width="1" height="1" fill="#fff"/><rect x="3" y="565" width="1" height="1" fill="#fff"/><rect x="1196" y="565" width="1" height="1" fill="#fff"/>
<rect x="4" y="102" width="1193" height="2" fill="#FF0000"/><rect x="4" y="206" width="1193" height="2" fill="#FF0000"/><rect x="4" y="287" width="1193" height="2" fill="#00CC00"/><rect x="4" y="357" width="1193" height="2" fill="#4060E0"/><rect x="4" y="450" width="1193" height="2" fill="#4060E0"/>
<rect x="1197" y="32" width="2" height="1" fill="#000"/><rect x="1197" y="65" width="2" height="1" fill="#000"/><rect x="1197" y="98" width="2" height="1" fill="#000"/><rect x="1197" y="131" width="2" height="1" fill="#000"/><rect x="1197" y="164" width="2" height="1" fill="#000"/><rect x="1197" y="197" width="2" height="1" fill="#000"/><rect x="1197" y="230" width="2" height="1" fill="#000"/><rect x="1197" y="263" width="2" height="1" fill="#000"/><rect x="1197" y="296" width="2" height="1" fill="#000"/><rect x="1197" y="329" width="2" height="1" fill="#000"/><rect x="1197" y="362" width="2" height="1" fill="#000"/><rect x="1197" y="395" width="2" height="1" fill="#000"/><rect x="1197" y="428" width="2" height="1" fill="#000"/><rect x="1197" y="461" width="2" height="1" fill="#000"/><rect x="1197" y="468" width="2" height="1" fill="#000"/><rect x="1197" y="519" width="2" height="1" fill="#000"/><rect x="1197" y="558" width="2" height="1" fill="#000"/><rect x="1197" y="568" width="2" height="1" fill="#000"/><rect x="1197" y="597" width="2" height="1" fill="#000"/><rect x="1197" y="637" width="2" height="1" fill="#000"/><rect x="1197" y="667" width="2" height="1" fill="#000"/><rect x="4" y="669" width="1" height="2" fill="#000"/><rect x="68" y="669" width="1" height="2" fill="#000"/><rect x="132" y="669" width="1" height="2" fill="#000"/><rect x="196" y="669" width="1" height="2" fill="#000"/><rect x="260" y="669" width="1" height="2" fill="#000"/><rect x="324" y="669" width="1" height="2" fill="#000"/><rect x="388" y="669" width="1" height="2" fill="#000"/><rect x="452" y="669" width="1" height="2" fill="#000"/><rect x="516" y="669" width="1" height="2" fill="#000"/><rect x="580" y="669" width="1" height="2" fill="#000"/><rect x="644" y="669" width="1" height="2" fill="#000"/><rect x="708" y="669" width="1" height="2" fill="#000"/><rect x="772" y="669" width="1" height="2" fill="#000"/><rect x="836" y="669" width="1" height="2" fill="#000"/><rect x="900" y="669" width="1" height="2" fill="#000"/><rect x="964" y="669" width="1" height="2" fill="#000"/><rect x="1028" y="669" width="1" height="2" fill="#000"/><rect x="1092" y="669" width="1" height="2" fill="#000"/><rect x="1156" y="669" width="1" height="2" fill="#000"/>
<path d="M7 10h7v1h-1v1h-1v1h-1v1h-1v-1h-1v-1h-1v-1h-1z" fill="#000"/>
</g>
<g class="tx">
<text x="1202.2" y="36" textLength="32" lengthAdjust="spacingAndGlyphs">111.040</text>
<text x="1202.2" y="69" textLength="32" lengthAdjust="spacingAndGlyphs">109.640</text>
<text x="1202.2" y="102" textLength="32" lengthAdjust="spacingAndGlyphs">108.200</text>
<text x="1202.2" y="135" textLength="32" lengthAdjust="spacingAndGlyphs">106.800</text>
<text x="1202.2" y="168" textLength="32" lengthAdjust="spacingAndGlyphs">105.360</text>
<text x="1202.2" y="201" textLength="32" lengthAdjust="spacingAndGlyphs">103.920</text>
<text x="1202.2" y="234" textLength="32" lengthAdjust="spacingAndGlyphs">102.520</text>
<text x="1202.2" y="267" textLength="32" lengthAdjust="spacingAndGlyphs">101.080</text>
<text x="1202.2" y="300" textLength="27" lengthAdjust="spacingAndGlyphs">99.680</text>
<text x="1202.2" y="333" textLength="27" lengthAdjust="spacingAndGlyphs">98.240</text>
<text x="1202.2" y="366" textLength="27" lengthAdjust="spacingAndGlyphs">96.800</text>
<text x="1202.2" y="399" textLength="27" lengthAdjust="spacingAndGlyphs">95.400</text>
<text x="1202.2" y="432" textLength="27" lengthAdjust="spacingAndGlyphs">93.960</text>
<text x="1202.2" y="465" textLength="27" lengthAdjust="spacingAndGlyphs">92.560</text>
</g>
<g class="c"><rect x="1199" y="97" width="38" height="11" fill="#FF0000"/><rect x="1199" y="201" width="38" height="11" fill="#FF0000"/><rect x="1199" y="282" width="38" height="11" fill="#00CC00"/><rect x="1199" y="352" width="34" height="11" fill="#4060E0"/><rect x="1199" y="445" width="34" height="11" fill="#4060E0"/><rect x="1199" y="299" width="34" height="11" fill="#000"/></g>
<g class="tx">
<text x="1202.2" y="106" textLength="32" lengthAdjust="spacingAndGlyphs" style="fill:#fff;stroke:#fff">108.000</text>
<text x="1202.2" y="210" textLength="32" lengthAdjust="spacingAndGlyphs" style="fill:#fff;stroke:#fff">103.500</text>
<text x="1202.2" y="291" textLength="32" lengthAdjust="spacingAndGlyphs" style="fill:#fff;stroke:#fff">100.000</text>
<text x="1202.2" y="361" textLength="27" lengthAdjust="spacingAndGlyphs" style="fill:#fff;stroke:#fff">97.000</text>
<text x="1202.2" y="454" textLength="27" lengthAdjust="spacingAndGlyphs" style="fill:#fff;stroke:#fff">93.000</text>
<text x="1202.2" y="308" textLength="27" lengthAdjust="spacingAndGlyphs" style="fill:#fff;stroke:#fff">99.311</text>
</g>
<g class="tx">
<text x="1199.5" y="477" textLength="23" lengthAdjust="spacingAndGlyphs">2.525</text>
<text x="1199.5" y="523" textLength="18" lengthAdjust="spacingAndGlyphs">0.00</text>
<text x="1199.5" y="562" textLength="26" lengthAdjust="spacingAndGlyphs">-2.141</text>
<text x="1199.5" y="578" textLength="14.5" lengthAdjust="spacingAndGlyphs">100</text>
<text x="1199.5" y="601" textLength="9.5" lengthAdjust="spacingAndGlyphs">70</text>
<text x="1199.5" y="641" textLength="9.5" lengthAdjust="spacingAndGlyphs">30</text>
<text x="1199.5" y="665">0</text>
</g>
<g class="tx">
<text y="15"><tspan x="18.2" lengthAdjust="spacingAndGlyphs" textLength="43.5">USOil-,H4</tspan> <tspan x="67.3" lengthAdjust="spacingAndGlyphs" textLength="27.5">99.365</tspan> <tspan x="98.8" lengthAdjust="spacingAndGlyphs" textLength="27.5">99.467</tspan> <tspan x="129.5" lengthAdjust="spacingAndGlyphs" textLength="27.5">99.226</tspan> <tspan x="160.1" lengthAdjust="spacingAndGlyphs" textLength="28">99.311</tspan></text>
<text y="479"><tspan x="7.3" lengthAdjust="spacingAndGlyphs" textLength="66">MACD(12,26,9)</tspan> <tspan x="76.2" lengthAdjust="spacingAndGlyphs" textLength="31.5">-1.9289</tspan> <tspan x="110" lengthAdjust="spacingAndGlyphs" textLength="31.5">-1.0286</tspan></text>
<text y="579"><tspan x="7.3" lengthAdjust="spacingAndGlyphs" textLength="32.5">RSI(14)</tspan> <tspan x="42" lengthAdjust="spacingAndGlyphs" textLength="33">31.0216</tspan></text>
</g>
<g class="tx">
<text x="2.5" y="681" textLength="46.199999999999996" lengthAdjust="spacingAndGlyphs">6 Apr 2022</text>
<text x="66.5" y="681" textLength="49.199999999999996" lengthAdjust="spacingAndGlyphs">7 Apr 20:00</text>
<text x="130.5" y="681" textLength="54.199999999999996" lengthAdjust="spacingAndGlyphs">11 Apr 00:00</text>
<text x="194.5" y="681" textLength="54.199999999999996" lengthAdjust="spacingAndGlyphs">12 Apr 08:00</text>
<text x="258.5" y="681" textLength="54.199999999999996" lengthAdjust="spacingAndGlyphs">13 Apr 16:00</text>
<text x="322.5" y="681" textLength="54.199999999999996" lengthAdjust="spacingAndGlyphs">17 Apr 23:00</text>
<text x="386.5" y="681" textLength="54.199999999999996" lengthAdjust="spacingAndGlyphs">19 Apr 04:00</text>
<text x="450.5" y="681" textLength="54.199999999999996" lengthAdjust="spacingAndGlyphs">20 Apr 12:00</text>
<text x="514.5" y="681" textLength="54.199999999999996" lengthAdjust="spacingAndGlyphs">21 Apr 20:00</text>
<text x="578.5" y="681" textLength="54.199999999999996" lengthAdjust="spacingAndGlyphs">25 Apr 00:00</text>
<text x="642.5" y="681" textLength="54.199999999999996" lengthAdjust="spacingAndGlyphs">26 Apr 08:00</text>
<text x="706.5" y="681" textLength="54.199999999999996" lengthAdjust="spacingAndGlyphs">27 Apr 16:00</text>
<text x="770.5" y="681" textLength="54.199999999999996" lengthAdjust="spacingAndGlyphs">29 Apr 00:00</text>
<text x="834.5" y="681" textLength="53.4" lengthAdjust="spacingAndGlyphs">2 May 04:00</text>
<text x="898.5" y="681" textLength="53.4" lengthAdjust="spacingAndGlyphs">3 May 12:00</text>
<text x="962.5" y="681" textLength="53.4" lengthAdjust="spacingAndGlyphs">4 May 20:00</text>
<text x="1026.5" y="681" textLength="53.4" lengthAdjust="spacingAndGlyphs">6 May 04:00</text>
<text x="1090.5" y="681" textLength="53.4" lengthAdjust="spacingAndGlyphs">9 May 08:00</text>
<text x="1154.5" y="681" textLength="58.4" lengthAdjust="spacingAndGlyphs">10 May 16:00</text>
</g>
<text y="413.8" style="font-family:'Liberation Sans','Noto Sans CJK SC',sans-serif;font-size:34.8px;fill:#FF0000;stroke:none"><tspan x="791.5" style="font-weight:300">多空转折点</tspan><tspan x="963.87 979.95 1000.95" y="413.25" style="font-size:37.1px">100</tspan></text>
</svg>
</body></html>
